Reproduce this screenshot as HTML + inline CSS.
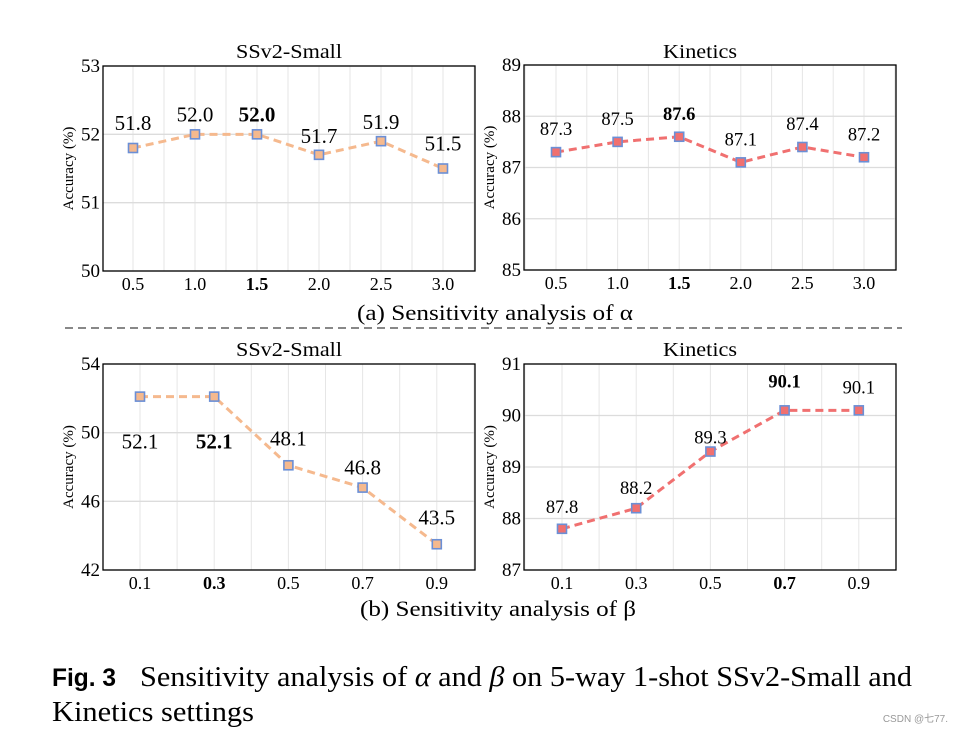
<!DOCTYPE html>
<html><head><meta charset="utf-8">
<style>
body{margin:0;background:#fff;}
svg{display:block;font-family:"Liberation Serif",serif;}
</style></head>
<body>
<svg id="fig" width="962" height="733" viewBox="0 0 962 733">
  <text x="289" y="58" font-size="20" text-anchor="middle" textLength="106" lengthAdjust="spacingAndGlyphs">SSv2-Small</text>
  <text x="700" y="58" font-size="20" text-anchor="middle" textLength="74" lengthAdjust="spacingAndGlyphs">Kinetics</text>
  <text x="289" y="356" font-size="20" text-anchor="middle" textLength="106" lengthAdjust="spacingAndGlyphs">SSv2-Small</text>
  <text x="700" y="356" font-size="20" text-anchor="middle" textLength="74" lengthAdjust="spacingAndGlyphs">Kinetics</text>
  <text x="357" y="320" font-size="22" textLength="276" lengthAdjust="spacingAndGlyphs">(a) Sensitivity analysis of α</text>
  <line x1="65" y1="328" x2="902" y2="328" stroke="#888" stroke-width="2" stroke-dasharray="8,5"/>
  <text x="360" y="616" font-size="22" textLength="276" lengthAdjust="spacingAndGlyphs">(b) Sensitivity analysis of β</text>
  <text x="52" y="686" font-size="25" font-family="Liberation Sans,sans-serif" font-weight="bold" textLength="64" lengthAdjust="spacingAndGlyphs">Fig. 3</text>
  <text x="140" y="686" font-size="28" textLength="772" lengthAdjust="spacingAndGlyphs">Sensitivity analysis of <tspan font-style="italic">α</tspan> and <tspan font-style="italic">β</tspan> on 5-way 1-shot SSv2-Small and</text>
  <text x="52" y="721" font-size="28" textLength="202" lengthAdjust="spacingAndGlyphs">Kinetics settings</text>
  <text x="948" y="722" font-size="10" fill="#999" text-anchor="end" font-family="Liberation Sans,sans-serif">CSDN @七77.</text>
  <g id="charts"></g>
</svg>
<script>
const catsA = ["0.5","1.0","1.5","2.0","2.5","3.0"];
const catsB = ["0.1","0.3","0.5","0.7","0.9"];
const valsA1 = [51.8,52.0,52.0,51.7,51.9,51.5];
const valsA2 = [87.3,87.5,87.6,87.1,87.4,87.2];
const valsB1 = [52.1,52.1,48.1,46.8,43.5];
const valsB2 = [87.8,88.2,89.3,90.1,90.1];
const ticksA1 = [50,51,52,53];
const ticksA2 = [85,86,87,88,89];
const ticksB1 = [42,46,50,54];
const ticksB2 = [87,88,89,90,91];
const boldA = 2, boldB1 = 1, boldB2 = 3;

const NS="http://www.w3.org/2000/svg";
const root=document.getElementById('charts');
function el(tag,attrs,parent){const e=document.createElementNS(NS,tag);for(const k in attrs)e.setAttribute(k,attrs[k]);(parent||root).appendChild(e);return e;}

function chart(name,box,cats,vals,ticks,bold,color,lblDy,lblFs){
  const g=el('g',{});
  
  
  const ymin=ticks[0],ymax=ticks[ticks.length-1];
  const yS=v=>box.b-(v-ymin)/(ymax-ymin)*(box.b-box.t);
  const xS=i=>box.x0+i*box.step;
  for(let k=-1;k<=cats.length*2;k++){
    const x=xS(k/2); if(x<=box.l||x>=box.r) continue;
    const gl=el('line',{x1:x,x2:x,y1:box.t,y2:box.b,stroke:'#e6e6e6','stroke-width':1},g);
    
    
  }
  ticks.forEach(t=>{
    const y=yS(t);
    const gl=el('line',{x1:box.l,x2:box.r,y1:y,y2:y,stroke:'#dcdcdc','stroke-width':1.3},g);
    
    
    const tl=el('text',{x:box.l-3,y:y+6,'font-size':19,'text-anchor':'end'},g);
    tl.textContent=t;
    
    
  });
  const fr=el('rect',{x:box.l,y:box.t,width:box.r-box.l,height:box.b-box.t,fill:'none',stroke:'#000','stroke-width':1.3},g);
  
  
  cats.forEach((c,i)=>{
    const tl=el('text',{x:xS(i),y:box.b+19,'font-size':18,'text-anchor':'middle','font-weight':i===bold?'bold':'normal'},g);
    tl.textContent=c;
    
    
  });
  const yl=el('text',{x:0,y:0,'font-size':15,'text-anchor':'middle',transform:`translate(${box.l-30},${(box.t+box.b)/2}) rotate(-90)`},g);
  yl.textContent='Accuracy (%)';
  
  
  const pts=vals.map((v,i)=>xS(i)+','+yS(v)).join(' ');
  const ln=el('polyline',{points:pts,fill:'none',stroke:color,'stroke-width':3,'stroke-dasharray':'8,5','stroke-linejoin':'round'},g);
  
  
  vals.forEach((v,i)=>{
    const m=el('rect',{x:xS(i)-4.5,y:yS(v)-4.5,width:9,height:9,fill:color,stroke:'#6b8fd6','stroke-width':1.6},g);
    
    
    const t=el('text',{x:xS(i),y:yS(v)+lblDy[i],'font-size':lblFs,'text-anchor':'middle','font-weight':i===bold?'bold':'normal'},g);
    t.textContent=v.toFixed(1);
    
    
  });
}
chart('chart-alpha-ssv2',{l:103,r:475,t:66,b:271,x0:133,step:62},catsA,valsA1,ticksA1,boldA,'#f5b98e',[-18,-13,-13,-12,-12,-18],21);
chart('chart-alpha-kinetics',{l:524,r:896,t:65,b:270,x0:556,step:61.6},catsA,valsA2,ticksA2,boldA,'#f07070',[-17,-17,-17,-17,-17,-17],18.5);
chart('chart-beta-ssv2',{l:103,r:475,t:364,b:570,x0:140,step:74.2},catsB,valsB1,ticksB1,boldB1,'#f5b98e',[52,52,-20,-13,-20],21);
chart('chart-beta-kinetics',{l:524,r:896,t:364,b:570,x0:562,step:74.2},catsB,valsB2,ticksB2,boldB2,'#f07070',[-16,-14,-8,-23,-17],18.5);
</script>
</body></html>
